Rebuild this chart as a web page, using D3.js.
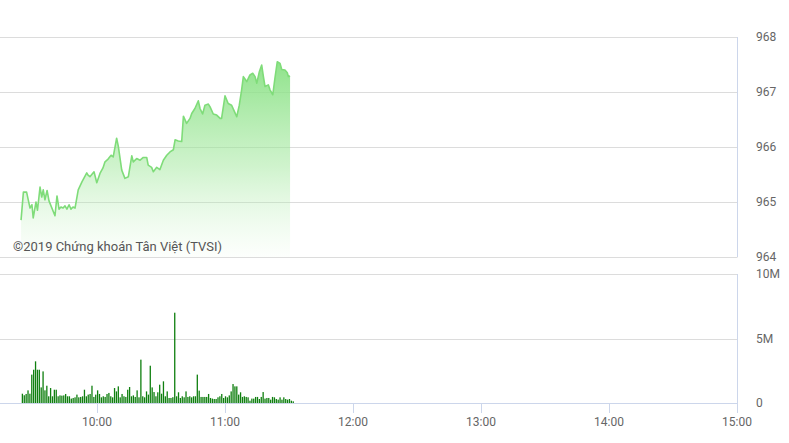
<!DOCTYPE html>
<html><head><meta charset="utf-8">
<script src="https://cdn.jsdelivr.net/npm/d3@7"></script>
<style>body{margin:0;background:#fff;} svg{display:block;font-family:Roboto,"Noto Sans",sans-serif;}</style>
</head><body><svg id="c" width="789" height="443"></svg>
<script>
const priceTimes = ["09:24:24","09:25:30","09:27:00","09:28:36","09:29:30","09:30:06","09:31:24","09:32:06","09:33:18","09:34:06","09:34:48","09:35:36","09:36:36","09:37:30","09:40:18","09:41:15","09:42:12","09:43:06","09:44:06","09:45:00","09:45:54","09:46:54","09:47:48","09:48:45","09:49:42","09:51:12","09:53:00","09:55:12","09:55:48","09:56:42","09:58:36","09:59:54","10:01:24","10:02:48","10:03:45","10:05:12","10:06:36","10:07:36","10:09:12","10:10:00","10:11:36","10:13:06","10:14:42","10:16:18","10:17:00","10:18:36","10:20:12","10:21:42","10:23:18","10:24:00","10:25:36","10:26:24","10:28:00","10:29:30","10:31:06","10:32:42","10:34:12","10:35:48","10:36:36","10:38:06","10:39:42","10:40:30","10:42:00","10:43:36","10:44:24","10:45:54","10:47:30","10:48:18","10:49:30","10:50:36","10:52:12","10:53:00","10:54:30","10:56:06","10:57:42","10:58:24","11:00:00","11:01:30","11:03:06","11:04:42","11:05:30","11:06:42","11:07:48","11:08:36","11:10:12","11:11:42","11:13:00","11:14:06","11:14:54","11:16:06","11:17:12","11:18:00","11:18:45","11:20:18","11:21:06","11:22:24","11:23:24","11:24:30","11:25:48","11:26:36","11:28:06","11:29:12","11:29:42","11:30:30"];
const priceValues = [964.67,965.18,965.18,964.89,964.95,964.71,965.00,964.85,965.27,965.09,965.22,965.04,965.21,965.02,964.75,965.11,964.87,964.91,964.89,964.93,964.87,964.95,964.87,964.91,964.89,965.22,965.37,965.53,965.49,965.46,965.55,965.35,965.52,965.62,965.73,965.78,965.85,965.82,966.16,966.01,965.58,965.43,965.46,965.84,965.73,965.79,965.76,965.81,965.81,965.67,965.63,965.55,965.63,965.59,965.76,965.85,965.91,965.95,966.13,966.11,966.10,966.56,966.43,966.52,966.61,966.70,966.84,966.70,966.60,966.76,966.78,966.73,966.60,966.58,966.52,966.52,966.93,966.79,966.76,966.62,966.55,966.76,967.04,967.28,967.19,967.31,967.34,967.28,967.16,967.37,967.49,967.28,967.10,967.13,967.04,966.95,967.25,967.55,967.52,967.41,967.40,967.35,967.28,967.29];
const priceTicks = [964, 965, 966, 967, 968];
const volStart = "09:25:00";
const volStepSeconds = 52.9;
const volumesM = [0.72,0.60,0.70,0.98,0.72,2.20,2.58,3.23,2.58,2.58,1.21,2.45,0.98,1.34,0.52,1.16,0.52,1.03,1.03,0.52,0.59,0.57,0.59,0.70,0.52,0.52,0.34,0.39,0.44,0.65,0.44,0.47,0.52,1.03,0.52,0.65,0.70,1.34,0.47,0.65,0.98,0.70,0.44,0.52,0.47,0.70,0.78,0.52,0.44,1.16,0.90,1.29,0.44,0.70,0.52,0.47,1.03,1.24,0.52,0.59,0.47,0.98,0.44,3.36,0.52,0.44,0.90,0.65,
 2.89,1.21,0.85,0.52,0.83,1.42,0.72,1.68,0.52,0.90,0.39,0.39,0.45,7.00,0.52,0.83,0.39,0.52,0.44,0.90,0.47,0.52,0.44,0.52,0.52,2.20,0.96,0.47,0.47,0.47,0.47,0.70,0.39,0.34,0.31,0.31,0.44,0.52,0.70,0.39,0.52,0.44,0.59,0.90,1.47,1.29,1.29,0.65,0.83,0.47,0.52,0.47,0.44,0.18,0.34,0.34,0.47,0.47,0.31,0.47,0.85,0.34,0.39,0.39,0.26,0.47,0.44,0.31,0.26,0.44,0.26,0.44,0.31,0.26,0.31,0.18,0.13];
const volTicks = [0, 5, 10];
const volTickLabels = ["0", "5M", "10M"];
const timeTicks = ["10:00", "11:00", "12:00", "13:00", "14:00", "15:00"];
const timeDomain = ["09:00", "15:00"];
const copyright = "©2019 Chứng khoán Tân Việt (TVSI)";

const svg = d3.select("#c");
const pT = d3.timeParse("%H:%M:%S"), pM = d3.timeParse("%H:%M");
const x = d3.scaleTime().domain(timeDomain.map(pM)).range([-31, 737]);
const yP = d3.scaleLinear().domain([964, 968]).range([257, 37]);
const yV = d3.scaleLinear().domain([0, 10]).range([403, 274]);
const right = 737.5;

const price = priceTimes.map((t, i) => ({t: pT(t), v: priceValues[i]}));
const v0 = pT(volStart);
const vols = volumesM.map((v, i) => ({t: new Date(v0.getTime() + i * volStepSeconds * 1000), v}));

const defs = svg.append("defs");
const g = defs.append("linearGradient").attr("id", "ga").attr("gradientUnits", "userSpaceOnUse")
  .attr("x1", 0).attr("x2", 0).attr("y1", 55).attr("y2", 257);
g.append("stop").attr("offset", 0).attr("stop-color", "#84e07f").attr("stop-opacity", 0.95);
g.append("stop").attr("offset", 0.55).attr("stop-color", "#9fe79a").attr("stop-opacity", 0.5);
g.append("stop").attr("offset", 1).attr("stop-color", "#c8f2c4").attr("stop-opacity", 0.05);

svg.append("g").selectAll("line").data(priceTicks).join("line")
  .attr("x1", 0).attr("x2", right).attr("y1", d => Math.round(yP(d)) + 0.5).attr("y2", d => Math.round(yP(d)) + 0.5)
  .attr("stroke", "#dcdcdc").attr("stroke-width", 1);
svg.append("line").attr("x1", right).attr("x2", right).attr("y1", yP(968)).attr("y2", yP(964))
  .attr("stroke", "#ccd6eb");

svg.append("path").datum(price)
  .attr("d", d3.area().x(d => x(d.t)).y0(yP(964)).y1(d => yP(d.v)))
  .attr("fill", "url(#ga)");
svg.append("path").datum(price)
  .attr("d", d3.line().x(d => x(d.t)).y(d => yP(d.v)))
  .attr("fill", "none").attr("stroke", "#7fdc79").attr("stroke-width", 1.6).attr("stroke-linejoin", "round");

svg.append("text").attr("x", 13).attr("y", 251).text(copyright)
  .attr("font-size", 13).attr("fill", "#555");

svg.append("g").selectAll("text").data(priceTicks).join("text")
  .attr("x", 756).attr("y", d => yP(d) + 4).text(d => d)
  .attr("font-size", 12).attr("fill", "#666");

svg.append("g").selectAll("line").data(volTicks.filter(d => d > 0)).join("line")
  .attr("x1", 0).attr("x2", right).attr("y1", d => Math.round(yV(d)) + 0.5).attr("y2", d => Math.round(yV(d)) + 0.5)
  .attr("stroke", "#dcdcdc");
svg.append("line").attr("x1", right).attr("x2", right).attr("y1", yV(10)).attr("y2", yV(0))
  .attr("stroke", "#ccd6eb");

svg.append("g").selectAll("rect").data(vols).join("rect")
  .attr("x", d => x(d.t) - 0.6).attr("width", 1.3)
  .attr("y", d => yV(d.v)).attr("height", d => yV(0) - yV(d.v))
  .attr("fill", "#0f7f0f");

svg.append("line").attr("x1", 0).attr("x2", right).attr("y1", 403.5).attr("y2", 403.5).attr("stroke", "#ccd6eb");
svg.append("g").selectAll("line").data(timeTicks).join("line")
  .attr("x1", d => Math.round(x(pM(d))) + 0.5).attr("x2", d => Math.round(x(pM(d))) + 0.5)
  .attr("y1", 403).attr("y2", 413).attr("stroke", "#ccd6eb");
svg.append("g").selectAll("text").data(timeTicks).join("text")
  .attr("x", d => x(pM(d))).attr("y", 426).attr("text-anchor", "middle").text(d => d)
  .attr("font-size", 12).attr("fill", "#666");

svg.append("g").selectAll("text").data(volTicks).join("text")
  .attr("x", 756).attr("y", d => yV(d) + 4).text((d, i) => volTickLabels[i])
  .attr("font-size", 12).attr("fill", "#666");
</script></body></html>
